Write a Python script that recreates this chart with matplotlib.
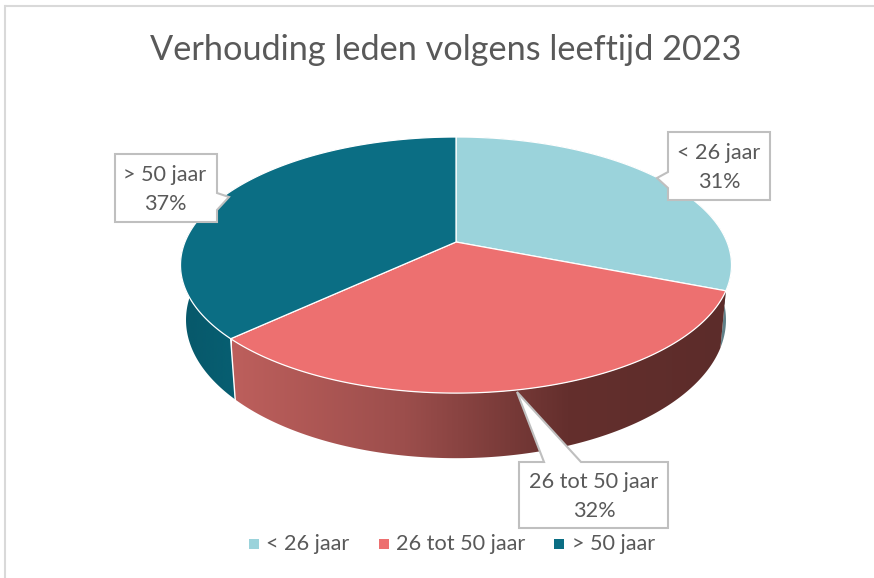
import numpy as np
import matplotlib
matplotlib.use('Agg')
import matplotlib.pyplot as plt
from matplotlib.patches import Polygon
from matplotlib.colors import LinearSegmentedColormap

labels = ['< 26 jaar', '26 tot 50 jaar', '> 50 jaar']
values = [31, 32, 37]
title = 'Verhouding leden volgens leeftijd 2023'

top_colors = ['#9BD3DB', '#ED7070', '#0B6E84']
TEXT = '#595959'
BOX = '#BFBFBF'
plt.rcParams['font.family'] = ['Lato', 'DejaVu Sans']


# pie is a tilted disk, so project angle (clockwise from 12 o'clock) to pixels
def top_edge(theta):
    u, v = np.sin(theta), np.cos(theta)
    d = 1 + 0.18 * v
    return 456 + 271 * u / d, 242 - 123.9 * v / d


def bottom_edge(theta):
    x, y = top_edge(theta)
    return 456 + 0.98 * (x - 456), 295 + 1.08 * (y - 242)


def arc(a, b):
    return np.linspace(a, b, 200)


fig = plt.figure(figsize=(8.74, 5.78), dpi=100)
ax = fig.add_axes([0, 0, 1, 1])

edges = np.cumsum([0] + values) / sum(values) * 2 * np.pi


def wall(i):
    t = arc(edges[i], edges[i + 1])
    x1, y1 = top_edge(t)
    x2, y2 = bottom_edge(t)
    return np.r_[np.c_[x1, y1], np.c_[x2, y2][::-1]]


def gradient_wall(i, stops, x0, x1):
    p = Polygon(wall(i), closed=True, fc='none', ec='none')
    ax.add_patch(p)
    cmap = LinearSegmentedColormap.from_list('w', stops)
    im = ax.imshow(np.linspace(0, 1, 256).reshape(1, -1), cmap=cmap, aspect='auto',
                   extent=[x0, x1, 470, 130], zorder=2)
    im.set_clip_path(p)


# side walls
ax.add_patch(Polygon(wall(0), closed=True, fc='#5F8088', ec='none', zorder=2))
gradient_wall(2, ['#07586A', '#075F72'], 180, 240)
gradient_wall(1, [(0, '#BD5F5C'), (0.35, '#9C4E4C'), (0.68, '#642F2D'), (1, '#5C2C2A')], 232, 726)

# seam between red and teal walls
xa, ya = top_edge(edges[2])
xb, yb = bottom_edge(edges[2])
ax.plot([xa, xb], [ya, yb], color='white', lw=1, zorder=3)

# top face
cx, cy = 456, 242
for i in range(3):
    x, y = top_edge(arc(edges[i], edges[i + 1]))
    ax.add_patch(Polygon(np.c_[np.r_[cx, x], np.r_[cy, y]], closed=True,
                         fc=top_colors[i], ec='white', lw=0.9, zorder=4))

# callouts
callouts = [
    ([(668, 132), (770, 132), (770, 200), (668, 200), (668, 188), (657, 178), (668, 172)],
     719, 153, 182, '31%', 0),
    ([(519, 462), (544, 462), (517, 392), (581, 462), (668, 462), (668, 528), (519, 528)],
     594, 482, 511, '32%', 1),
    ([(115, 154), (217, 154), (217, 193), (229, 197), (217, 210), (217, 222), (115, 222)],
     165, 175, 204, '37%', 2),
]
for pts, tx, ty1, ty2, pct, i in callouts:
    ax.add_patch(Polygon(pts, closed=True, fc='white', ec=BOX, lw=1.5, zorder=5))
    ax.text(tx, ty1, labels[i], color=TEXT, fontsize=15.6, ha='center', va='center', zorder=6)
    ax.text(tx, ty2, pct, color=TEXT, fontsize=15.6, ha='center', va='center', zorder=6)

# title
ax.text(446, 50, title, color=TEXT, fontsize=24.7, ha='center', va='center')

# legend
for i, (mx, lx) in enumerate(zip([254, 384, 559], [266, 396, 572])):
    ax.scatter([mx], [544], marker='s', s=44, color=top_colors[i], linewidths=0)
    ax.text(lx, 544, labels[i], color=TEXT, fontsize=15.6, ha='left', va='center')

# chart frame
ax.plot([6, 874], [6, 6], color='#D9D9D9', lw=1.5)
ax.plot([5, 5], [6, 578], color='#D9D9D9', lw=1.5)

ax.set_xlim(0, 874)
ax.set_ylim(578, 0)
ax.axis('off')
fig.savefig('out.png', dpi=100)
